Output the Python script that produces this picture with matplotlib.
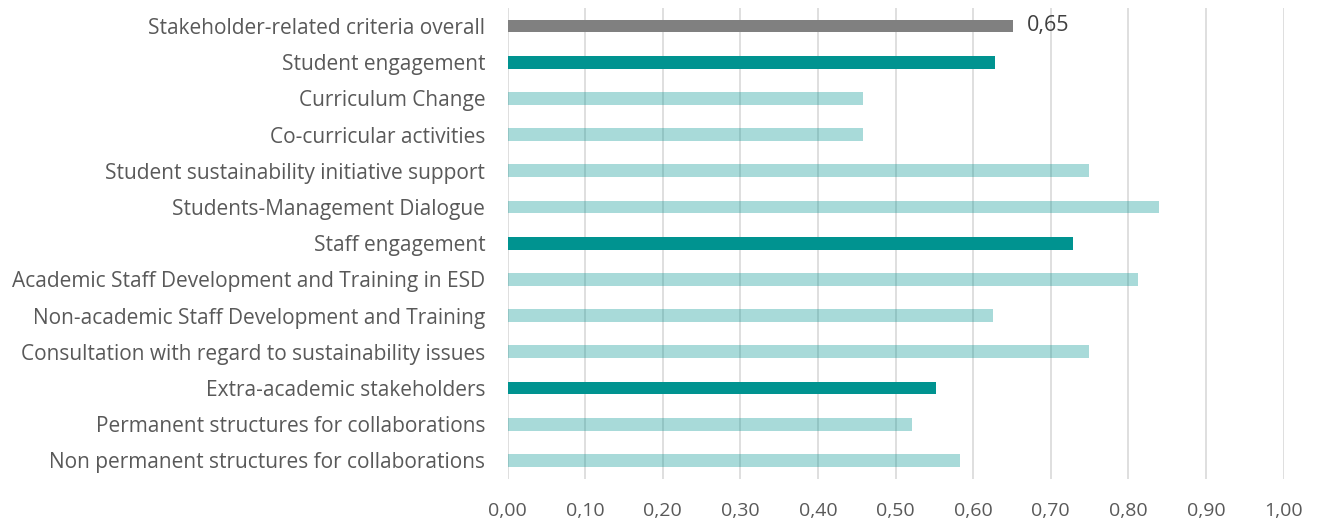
import matplotlib
matplotlib.use("Agg")
import matplotlib.pyplot as plt

categories = [
    "Stakeholder-related criteria overall",
    "Student engagement",
    "Curriculum Change",
    "Co-curricular activities",
    "Student sustainability initiative support",
    "Students-Management Dialogue",
    "Staff engagement",
    "Academic Staff Development and Training in ESD",
    "Non-academic Staff Development and Training",
    "Consultation with regard to sustainability issues",
    "Extra-academic stakeholders",
    "Permanent structures for collaborations",
    "Non permanent structures for collaborations",
]
values = [0.652, 0.628, 0.458, 0.458, 0.749, 0.839, 0.729, 0.812, 0.625, 0.749, 0.552, 0.521, 0.583]
levels = ["overall", "group", "sub", "sub", "sub", "sub", "group", "sub", "sub", "sub", "group", "sub", "sub"]
xticks = [i / 10 for i in range(11)]
xtick_labels = [f"{t:.2f}".replace(".", ",") for t in xticks]
value_label = "0,65"

TEAL = "#009390"
GREY = "#808080"
TEXT = "#595959"

plt.rcParams['font.family'] = ['Open Sans', 'DejaVu Sans']

fig = plt.figure(figsize=(13.2, 5.25), dpi=100)
ax = fig.add_axes([507.5 / 1320, 1 - 478.5 / 525, (1283.5 - 507.5) / 1320, (478.5 - 7.9) / 525])

ypos = list(range(len(categories)))
for y, v, lv in zip(ypos, values, levels):
    if lv == "overall":
        ax.barh(y, v, height=0.35, color=GREY, zorder=3)
    elif lv == "group":
        ax.barh(y, v, height=0.35, color=TEAL, zorder=3)
    else:
        ax.barh(y, v, height=0.35, color=TEAL, alpha=0.34, zorder=3, linewidth=0)

ax.annotate(value_label, xy=(values[0], ypos[0]), xytext=(10, 0), textcoords="offset points",
            ha="left", va="center", fontsize=15.5, color="#404040")

ax.set_xlim(0, 1.0)
ax.set_ylim(len(categories) - 0.5, -0.5)
ax.set_yticks(ypos)
ax.set_yticklabels(categories)
ax.set_xticks(xticks)
ax.set_xticklabels(xtick_labels)
ax.tick_params(axis="y", length=0, pad=16, labelsize=15, labelcolor=TEXT)
ax.tick_params(axis="x", length=0, pad=17, labelsize=14, labelcolor=TEXT)
ax.xaxis.grid(True, color="#d9d9d9", linewidth=1.2, zorder=0)
ax.set_axisbelow(True)
for s in ax.spines.values():
    s.set_visible(False)

fig.savefig("out.png", dpi=100)
